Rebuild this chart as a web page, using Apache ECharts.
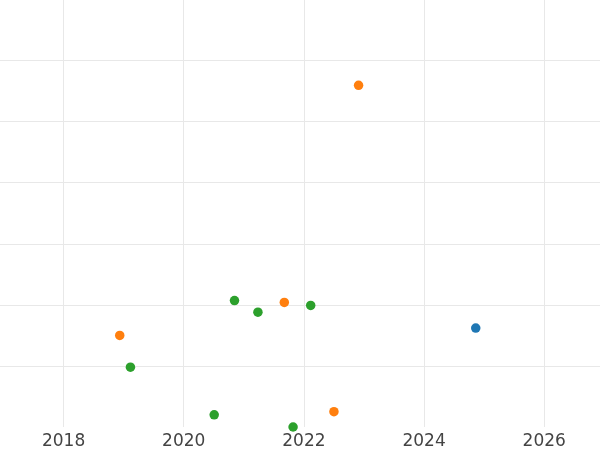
<!DOCTYPE html>
<html>
<head>
<meta charset="utf-8">
<script src="https://cdn.jsdelivr.net/npm/echarts@6/dist/echarts.min.js"></script>
<style>html,body{margin:0;padding:0;background:#fff;}#c{width:600px;height:450px;}</style>
</head>
<body>
<div id="c"></div>
<script>
// Series data: [year, value]
const blueX = [2024.86];
const blueY = [1.62];
const orangeX = [2018.935, 2021.674, 2022.50, 2022.91];
const orangeY = [1.50, 2.04, 0.25, 5.595];
const greenX = [2019.113, 2020.507, 2020.845, 2021.235, 2021.82, 2022.113];
const greenY = [0.98, 0.20, 2.07, 1.88, 0.0, 1.99];
const colors = ['#1f77b4', '#ff7f0e', '#2ca02c'];

function pairs(xs, ys) { return xs.map((x, i) => [x, ys[i]]); }

const chart = echarts.init(document.getElementById('c'), null, {renderer: 'canvas'});
chart.setOption({
  animation: false,
  backgroundColor: '#ffffff',
  grid: {left: -56.6, right: -64.4, top: -0.5, bottom: 23, containLabel: false, outerBoundsMode: 'none'},
  xAxis: {
    type: 'value', min: 2016, max: 2028, interval: 2,
    axisLine: {show: false}, axisTick: {show: false},
    axisLabel: {fontFamily: 'DejaVu Sans', fontSize: 17, color: '#444444', margin: 6,
                formatter: function (v) { return String(v); }},
    splitLine: {show: true, lineStyle: {color: '#e8e8e8', width: 1}}
  },
  yAxis: {
    type: 'value', min: 0, max: 7, interval: 1,
    axisLine: {show: false}, axisTick: {show: false},
    axisLabel: {show: false},
    splitLine: {show: true, showMinLine: false, showMaxLine: false, lineStyle: {color: '#e8e8e8', width: 1}}
  },
  series: [
    {type: 'scatter', data: pairs(blueX, blueY), symbolSize: 9.5, itemStyle: {color: colors[0], opacity: 1}, clip: true},
    {type: 'scatter', data: pairs(orangeX, orangeY), symbolSize: 9.5, itemStyle: {color: colors[1], opacity: 1}, clip: true},
    {type: 'scatter', data: pairs(greenX, greenY), symbolSize: 9.5, itemStyle: {color: colors[2], opacity: 1}, clip: true}
  ]
});
</script>
</body>
</html>
